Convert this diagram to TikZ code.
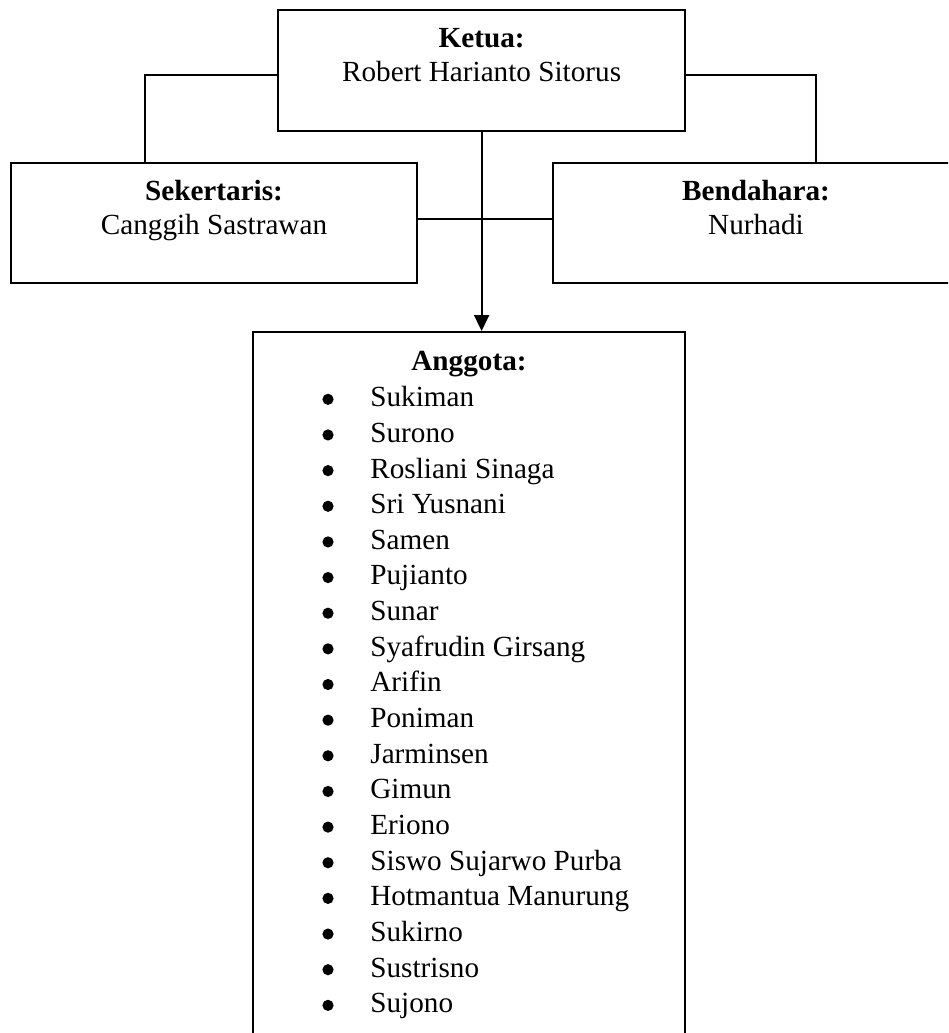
\documentclass[tikz,border=0pt]{standalone}
\usepackage{fontspec}
\setmainfont{Liberation Serif}
\usetikzlibrary{arrows.meta}
\begin{document}
\begin{tikzpicture}[x=0.5pt,y=-0.5pt,
  every node/.style={font=\fontsize{14.6pt}{17.5pt}\selectfont},
  box/.style={draw,line width=1pt,inner sep=0pt,minimum width=203.3pt,minimum height=60.3pt},
  txt/.style={anchor=base,inner sep=0pt},
  dot/.style={circle,fill,inner sep=0pt,minimum size=5.6pt},
  conn/.style={line width=1pt}]
  \useasboundingbox (0,0) rectangle (948,1033);
  \clip (0,0) rectangle (948,1033);
  % boxes
  \node[box] (ketua) at (481.6,70.75) {};
  \node[box] (sek) at (214.15,223) {};
  \node[box] (bend) at (755.85,223) {};
  \node[box,minimum width=215.85pt,minimum height=356.5pt] (anggota) at (469.15,688.5) {};
  % texts
  \node[txt] (ketuaJ) at (481.6,47.5) {\textbf{Ketua:}};
  \node[txt] (ketuaN) at (481.6,81) {Robert Harianto Sitorus};
  \node[txt] (sekJ) at (214,200.5) {\textbf{Sekertaris:}};
  \node[txt] (sekN) at (214,234) {Canggih Sastrawan};
  \node[txt] (bendJ) at (756,200.5) {\textbf{Bendahara:}};
  \node[txt] (bendN) at (756,234) {Nurhadi};
  \node[txt] (anggotaJ) at (469,370) {\textbf{Anggota:}};
  \foreach \nama [count=\i] in {Sukiman,Surono,Rosliani Sinaga,Sri Yusnani,Samen,Pujianto,Sunar,
    Syafrudin Girsang,Arifin,Poniman,Jarminsen,Gimun,Eriono,Siswo Sujarwo Purba,
    Hotmantua Manurung,Sukirno,Sustrisno,Sujono} {
    \node[dot] (dot\i) at (328,399.3+35.65*\i-35.65) {};
    \node[txt,anchor=base west] (nama\i) at (370,406.7+35.65*\i-35.65) {\nama};
  }
  % connectors
  \draw[conn] ([yshift=-2.3pt]ketua.west) -| ([xshift=-34.8pt]sek.north);
  \draw[conn] ([yshift=-2.3pt]ketua.east) -| ([xshift=30.2pt]bend.north);
  \draw[conn] ([yshift=1.85pt]sek.east) -- ([yshift=1.85pt]bend.west);
  \draw[conn,-{Triangle[length=8pt,width=7.5pt]}] (ketua.south) -- (ketua.south |- anggota.north);
\end{tikzpicture}
\end{document}
